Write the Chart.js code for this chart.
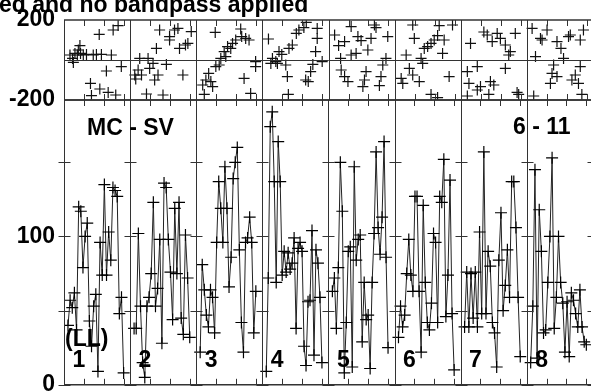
<!DOCTYPE html>
<html lang="en">
<head>
<meta charset="utf-8" />
<title>MC - SV panels</title>
<style>
  * { margin: 0; padding: 0; }
  body { width: 591px; height: 392px; overflow: hidden; background: #fff; position: relative; }
  canvas { position: absolute; left: 0; top: 0; }
</style>
</head>
<body>
<canvas id="topChart" width="600" height="392"></canvas>
<canvas id="lowChart" width="600" height="392"></canvas>

<script src="https://cdn.jsdelivr.net/npm/chart.js@4/dist/chart.umd.min.js"></script>
<script>
  // panel layout (x units): 8 panels side by side, ticks at 0..3 in each
  const nPanels = 8;
  const panelWidth = 3.325;
  const xTickUnits = [0, 1, 2, 3];

  const upperTicks = [-200, 0, 200];
  const upperLabels = ["-200", "", "200"];
  const lowerTicks = [0, 50, 100, 150];
  const lowerLabels = ["0", "", "100", ""];

  // lower panels: amplitude series, one per panel
  const amp1 = [40, 57, 52, 62, 37, 120, 117, 79, 100, 109, 43, 26, 53, 61, 9, 96, 74, 135, 74, 103, 84, 133, 131, 127, 48, 59, 8];
  const amp2 = [38, 38, 102, 53, 15, 5, 53, 59, 75, 123, 53, 65, 98, 28, 136, 133, 98, 76, 44, 119, 75, 123, 45, 34, 101, 72, 32];
  const amp3 = [22, 81, 64, 47, 39, 64, 59, 35, 96, 137, 119, 96, 147, 119, 66, 86, 139, 150, 160, 91, 42, 22, 96, 99, 113, 96, 35, 63];
  const amp4 = [9, 72, 174, 184, 137, 69, 164, 137, 74, 90, 76, 89, 78, 82, 99, 38, 92, 96, 90, 26, 13, 56, 57, 104, 20, 91, 82, 59, 15];
  const amp5 = [63, 72, 38, 79, 150, 117, 8, 42, 90, 93, 12, 147, 84, 98, 101, 29, 69, 44, 47, 11, 69, 102, 157, 106, 88, 113, 164, 86, 25];
  const amp6 = [32, 53, 39, 47, 75, 98, 74, 63, 127, 127, 63, 22, 121, 69, 42, 37, 55, 102, 96, 42, 127, 123, 152, 46, 74, 138, 48, 10];
  const amp7 = [39, 76, 39, 75, 45, 76, 39, 103, 48, 157, 48, 90, 80, 42, 35, 12, 84, 116, 50, 67, 91, 59, 137, 137, 106, 59, 19];
  const amp8 = [15, 53, 145, 18, 118, 90, 35, 37, 69, 100, 153, 38, 59, 100, 69, 55, 22, 56, 19, 62, 57, 48, 39, 64, 39, 29, 27];

  // upper panels: phase scatter, [x within panel, value]
  const phase1 = [[1.77,128],[2.47,150],[2.72,172],[0.8,72],[0.72,50],[0.55,33],[0.3,25],[0.43,8],[0.97,25],[1.13,28],[1.47,25],[1.88,28],[2.38,25],[0.47,-12],[2.88,-33],[2.13,-55],[1.33,-117],[1.8,-145],[1.38,-178],[2.22,-162],[2.6,-175],[0.67,25],[0.83,33],[1.63,28]];
  const phase2 = [[0.48,8],[0.9,8],[1.32,58],[1.48,150],[1.82,-22],[1.98,117],[2.23,150],[2.4,158],[2.78,75],[3.07,142],[2.9,83],[2.48,58],[0.4,-50],[0.23,-75],[0.57,-75],[0.98,-42],[1.15,-17],[1.4,-75],[1.23,-100],[2.65,-75],[0.82,-170],[1.65,-175],[1.98,100],[0.28,-95]];
  const phase3 = [[0.95,138],[0.4,-172],[0.32,-125],[0.48,-100],[0.73,-108],[0.62,-67],[0.98,-33],[1.23,8],[1.4,42],[1.57,67],[1.73,58],[1.82,83],[1.98,100],[2.23,155],[2.28,117],[2.48,108],[2.65,100],[2.98,-8],[2.98,-33],[2.4,-92],[2.73,-167],[0.82,-133],[1.15,-25],[1.48,17]];
  const phase4 = [[0.3,105],[0.5,8],[0.42,-17],[0.67,-8],[0.83,42],[0.97,28],[1.33,58],[1.5,75],[1.7,133],[1.83,150],[2.08,162],[2.2,188],[2.75,158],[2.75,108],[2.67,42],[2.53,-22],[2.42,-58],[2.17,-100],[2.3,-108],[1.25,-83],[1.3,-172],[3.0,-8],[1.17,-25],[0.75,-17]];
  const phase5 = [[0.3,125],[0.5,72],[0.8,92],[1.13,167],[1.47,117],[1.63,97],[2.13,108],[2.3,175],[2.38,162],[2.97,117],[1.97,50],[1.38,33],[1.13,25],[2.88,8],[0.6,8],[0.63,-50],[0.97,-108],[1.8,-100],[1.72,-133],[2.63,-83],[2.72,-25],[2.55,-128],[1.88,-58],[0.8,-83]];
  const phase6 = [[0.9,175],[2.23,172],[2.9,175],[0.98,108],[2.15,122],[1.82,83],[1.48,58],[2.4,33],[2.48,100],[0.57,25],[1.32,8],[0.73,-42],[0.9,-75],[0.4,-117],[0.32,-92],[1.23,-108],[2.73,-83],[1.82,-172],[2.15,-188],[1.65,67],[1.98,100],[1.4,-17]];
  const phase7 = [[1.15,140],[1.32,125],[1.82,133],[1.98,108],[2.23,75],[2.4,25],[2.48,42],[2.73,133],[0.48,83],[2.23,-42],[0.82,-33],[0.32,-58],[0.4,-117],[0.98,-133],[1.48,-108],[1.65,-125],[1.4,-172],[0.32,-180],[0.82,-150],[2.82,-162],[2.9,-172],[1.57,92]];
  const phase8 = [[0.25,158],[0.67,108],[0.75,100],[1.0,150],[1.5,92],[1.7,58],[2.08,117],[2.17,125],[2.67,100],[2.83,150],[1.83,8],[0.42,17],[1.33,-25],[1.25,-67],[1.17,-117],[1.5,-83],[2.42,-75],[2.25,-100],[2.58,-117],[2.75,-172],[2.67,-33],[0.33,-180]];

  const panelNames = ["1", "2", "3", "4", "5", "6", "7", "8"];
  const ampSeries = [amp1, amp2, amp3, amp4, amp5, amp6, amp7, amp8];
  const phaseSeries = [phase1, phase2, phase3, phase4, phase5, phase6, phase7, phase8];

  const FONT = "'Liberation Sans', Arial, Helvetica, sans-serif";

  // frames, separators and inward ticks for each panel
  const panelFrames = {
    id: "panelFrames",
    afterDatasetsDraw(chart, args, opts) {
      const { ctx, chartArea: { left, right, top, bottom }, scales: { x, y } } = chart;
      const line = (x1, y1, x2, y2) => {
        ctx.beginPath();
        ctx.moveTo(x1, y1);
        ctx.lineTo(x2, y2);
        ctx.stroke();
      };
      ctx.save();
      ctx.strokeStyle = "#333";
      ctx.lineWidth = 1;

      if (opts.zeroLine) {
        const py = Math.round(y.getPixelForValue(0)) + 0.5;
        line(left, py, right, py);
      }

      for (let i = 0; i <= nPanels; i++) {
        const bx = Math.round(x.getPixelForValue(i * panelWidth)) + 0.5;
        line(bx, top, bx, bottom);
        opts.yTicks.forEach((v) => {
          const py = Math.round(y.getPixelForValue(v)) + 0.5;
          line(bx - 6, py, bx + 6, py);
        });
        if (i < nPanels) {
          xTickUnits.forEach((k) => {
            const px = Math.round(x.getPixelForValue(i * panelWidth + k)) + 0.5;
            line(px, bottom, px, bottom - 6);
            line(px, top, px, top + 6);
          });
        }
      }

      ctx.lineWidth = 1.5;
      line(left, top, right, top);
      line(left, bottom, right, bottom);
      ctx.restore();
    },
  };

  // text labels drawn onto the panels
  const panelText = {
    id: "panelText",
    afterDraw(chart, args, opts) {
      const { ctx, scales: { x } } = chart;
      ctx.save();
      ctx.fillStyle = "#000";
      ctx.font = "bold 23px " + FONT;
      ctx.textBaseline = "alphabetic";
      ctx.textAlign = "left";
      (opts.items || []).forEach((t) => ctx.fillText(t.text, t.x, t.y));
      if (opts.numbers) {
        panelNames.forEach((name, i) => {
          ctx.fillText(name, x.getPixelForValue(i * panelWidth) + 8.5, 367);
        });
      }
      ctx.restore();
    },
  };

  function makeOptions(yMin, yMax, tickValues, tickLabels, padTop, padBottom, frameOpts, textOpts) {
    return {
      responsive: false,
      animation: false,
      layout: { padding: { top: padTop, bottom: padBottom, left: 0, right: 4 } },
      plugins: {
        legend: { display: false },
        tooltip: { enabled: false },
        panelFrames: frameOpts,
        panelText: textOpts,
      },
      scales: {
        x: { type: "linear", min: 0, max: nPanels * panelWidth, display: false },
        y: {
          type: "linear",
          min: yMin,
          max: yMax,
          afterFit(scale) {
            scale.width = 64;
            scale.paddingTop = 0;
            scale.paddingBottom = 0;
          },
          afterBuildTicks(scale) {
            scale.ticks = tickValues.map((v) => ({ value: v }));
          },
          grid: { display: false, drawTicks: false },
          border: { display: false },
          ticks: {
            padding: 9,
            color: "#000",
            font: { family: FONT, size: 23, weight: "bold" },
            callback: (v) => tickLabels[tickValues.indexOf(v)],
          },
        },
      },
    };
  }

  // upper: phase scatter
  const topData = {
    datasets: phaseSeries.map((pts, i) => ({
      data: pts.map((p) => ({ x: i * panelWidth + p[0], y: p[1] })),
      showLine: false,
      pointStyle: "cross",
      pointRadius: 5.5,
      pointBorderWidth: 1.2,
      pointBorderColor: "#111",
    })),
  };

  new Chart(document.getElementById("topChart"), {
    type: "scatter",
    data: topData,
    options: makeOptions(-200, 200, upperTicks, upperLabels, 20, 292,
      { yTicks: [], zeroLine: true },
      { items: [{ text: "ed and no bandpass applied", x: -1, y: 12 }] }),
    plugins: [panelFrames, panelText],
  });

  // lower: amplitude time series
  const lowData = {
    datasets: ampSeries.map((vals, i) => ({
      data: vals.map((v, k) => ({
        x: i * panelWidth + 0.2 + (k * 2.8) / (vals.length - 1),
        y: v,
      })),
      borderColor: "#222",
      borderWidth: 1,
      pointStyle: "cross",
      pointRadius: 6,
      pointBorderWidth: 1.2,
      pointBorderColor: "#000",
      tension: 0,
    })),
  };

  new Chart(document.getElementById("lowChart"), {
    type: "line",
    data: lowData,
    options: makeOptions(0, 192, lowerTicks, lowerLabels, 100, 7,
      { yTicks: lowerTicks, zeroLine: false },
      {
        numbers: true,
        items: [
          { text: "MC - SV", x: 87, y: 135 },
          { text: "6 - 11", x: 513, y: 134 },
          { text: "(LL)", x: 65, y: 346 },
        ],
      }),
    plugins: [panelFrames, panelText],
  });
</script>
</body>
</html>
